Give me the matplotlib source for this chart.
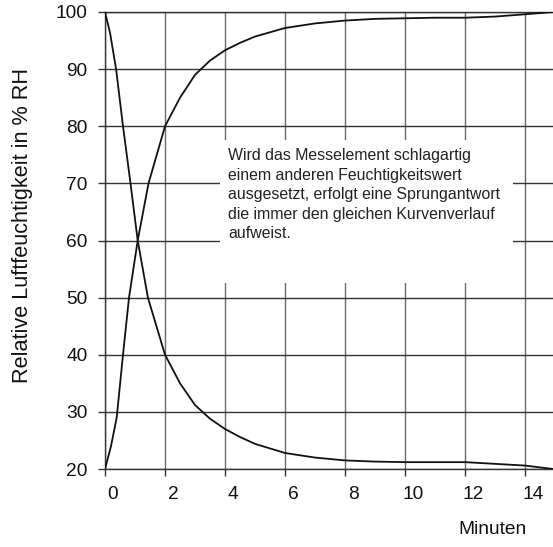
import matplotlib
matplotlib.use('Agg')
import matplotlib.pyplot as plt
from matplotlib.patches import Rectangle
from matplotlib.transforms import ScaledTranslation

plt.rcParams['font.family'] = ['Liberation Sans', 'DejaVu Sans']

# Sprungantwort: Anstieg und Abfall
x_up = [0, 0.2, 0.39, 0.6, 0.8, 1.09, 1.45, 2.0, 2.5, 3.0, 3.5, 4, 4.5, 5, 6, 7, 8, 9, 10, 11, 12, 13, 14, 14.93]
y_up = [20, 24, 29, 40, 50, 60, 70, 80, 85, 89, 91.5, 93.3, 94.6, 95.7, 97.2, 98.0, 98.5, 98.8, 98.9, 99.0, 99.0, 99.2, 99.6, 100]

x_down = [0, 0.17, 0.37, 0.6, 0.85, 1.09, 1.43, 2.0, 2.5, 3.0, 3.5, 4, 4.5, 5, 6, 7, 8, 9, 10, 11, 12, 13, 14, 14.93]
y_down = [100, 96.3, 90, 80, 70, 60, 50, 40, 35, 31.2, 28.8, 27.0, 25.6, 24.4, 22.8, 22.0, 21.5, 21.3, 21.2, 21.2, 21.2, 20.9, 20.6, 20]

xticks = [0, 2, 4, 6, 8, 10, 12, 14]
yticks = [20, 30, 40, 50, 60, 70, 80, 90, 100]

note = ("Wird das Messelement schlagartig\n"
        "einem anderen Feuchtigkeitswert\n"
        "ausgesetzt, erfolgt eine Sprungantwort\n"
        "die immer den gleichen Kurvenverlauf\n"
        "aufweist.")

fig = plt.figure(figsize=(5.53, 5.47), dpi=100)
ax = fig.add_axes([105/553, 1 - 469/547, 448/553, 457/547])

ax.plot(x_up, y_up, color='#111111', lw=1.3, zorder=3)
ax.plot(x_down, y_down, color='#111111', lw=1.3, zorder=3)

ax.set_xlim(0, 14.93)
ax.set_ylim(20, 100)
ax.set_xticks(xticks)
ax.set_yticks(yticks)

ax.set_axisbelow(True)
ax.grid(axis='x', color='#6a6a6a', lw=1.0)
ax.grid(axis='y', color='#333333', lw=1.0)

# weisses Feld fuer den Hinweistext
ax.add_patch(Rectangle((3.83, 52.5), 13.6 - 3.83, 77.6 - 52.5,
                       facecolor='white', edgecolor='none', zorder=1))
ax.text(4.1, 76.2, note, fontsize=11.4, color='#222222', va='top', ha='left',
        linespacing=1.38, zorder=4)

for s in ['left', 'bottom', 'top']:
    ax.spines[s].set_color('#333333')
    ax.spines[s].set_linewidth(1.0)
ax.spines['right'].set_visible(False)

ax.tick_params(direction='out', length=5, width=1.0, color='#333333',
               labelsize=13.8, labelcolor='#111111')
ax.tick_params(axis='y', pad=7.5)
ax.tick_params(axis='x', pad=7)
for lab in ax.get_xticklabels():
    lab.set_transform(lab.get_transform() + ScaledTranslation(8/100, 0, fig.dpi_scale_trans))

fig.text(23/553, 1 - 226/547, 'Relative Luftfeuchtigkeit in % RH', rotation=90,
         fontsize=15.6, color='#111111', ha='center', va='center')
fig.text(492/553, 1 - 530/547, 'Minuten', fontsize=13.8, color='#111111',
         ha='center', va='center')

fig.savefig('out.png', dpi=100)
